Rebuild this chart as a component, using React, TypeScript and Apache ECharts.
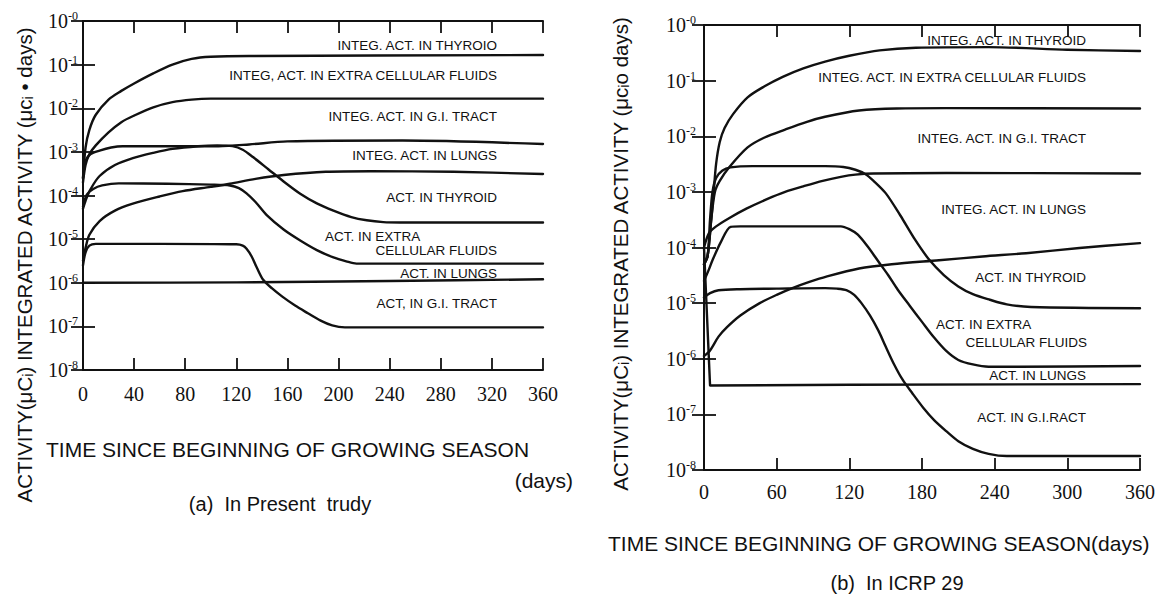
import React, { useEffect, useRef } from "react";
import * as echarts from "echarts";

// ---------- (a) In Present study : [day, value] ----------
const aIntegThyroid: [number, number][] = [
  [0, 2.5e-4], [2, 1.26e-3], [5, 3.2e-3], [10, 7.1e-3], [20, 1.58e-2], [30, 2.5e-2],
  [40, 3.7e-2], [55, 6.3e-2], [70, 1.0e-1], [85, 1.35e-1], [100, 1.51e-1], [130, 1.58e-1],
  [360, 1.66e-1],
];
const aIntegECF: [number, number][] = [
  [0, 2.0e-4], [2, 5.0e-4], [5, 8.9e-4], [10, 1.41e-3], [20, 2.8e-3], [30, 4.8e-3],
  [40, 6.8e-3], [55, 1.05e-2], [70, 1.38e-2], [85, 1.58e-2], [100, 1.66e-2], [360, 1.66e-2],
];
const aIntegGI: [number, number][] = [
  [0, 2.5e-4], [2, 6.3e-4], [6, 8.9e-4], [13, 1.07e-3], [22, 1.26e-3], [31, 1.35e-3],
  [106, 1.35e-3], [130, 1.48e-3], [160, 1.74e-3], [250, 1.82e-3], [360, 1.51e-3],
];
const aIntegLungs: [number, number][] = [
  [0, 3.2e-6], [2, 6.3e-6], [5, 1.26e-5], [13, 2.6e-5], [25, 4.5e-5], [39, 6.5e-5],
  [60, 9.5e-5], [78, 1.26e-4], [100, 1.58e-4], [115, 1.86e-4], [135, 2.4e-4], [157, 2.95e-4],
  [190, 3.5e-4], [225, 3.6e-4], [290, 3.5e-4], [360, 3.1e-4],
];
const aActThyroid: [number, number][] = [
  [0, 5.0e-5], [2, 7.6e-5], [6, 1.41e-4], [13, 2.8e-4], [25, 5.0e-4], [39, 7.2e-4],
  [55, 9.5e-4], [70, 1.17e-3], [90, 1.35e-3], [105, 1.41e-3], [117, 1.35e-3], [125, 1.12e-3],
  [133, 7.6e-4], [145, 4.0e-4], [157, 2.1e-4], [170, 1.1e-4], [183, 6.6e-5], [196, 4.5e-5],
  [210, 3.2e-5], [222, 2.7e-5], [235, 2.45e-5], [248, 2.4e-5], [360, 2.4e-5],
];
const aActECF: [number, number][] = [
  [0, 5.6e-5], [3, 1.05e-4], [8, 1.41e-4], [15, 1.7e-4], [28, 1.9e-4], [66, 1.86e-4],
  [100, 1.78e-4], [115, 1.7e-4], [122, 1.48e-4], [128, 1.12e-4], [135, 7.1e-5], [144, 3.5e-5],
  [157, 1.66e-5], [170, 9.3e-6], [183, 5.6e-6], [196, 3.8e-6], [206, 3.1e-6], [214, 2.75e-6],
  [360, 2.75e-6],
];
const aActLungs: [number, number][] = [
  [0, 1.0e-6], [120, 1.02e-6], [240, 1.1e-6], [360, 1.2e-6],
];
const aActGI: [number, number][] = [
  [0, 2.5e-6], [2, 5.0e-6], [5, 7.1e-6], [10, 7.8e-6], [60, 7.8e-6], [120, 7.6e-6],
  [125, 7.1e-6], [128, 6.0e-6], [132, 4.0e-6], [136, 2.24e-6], [141, 1.17e-6], [148, 7.4e-7],
  [156, 4.8e-7], [166, 3.0e-7], [176, 2.0e-7], [186, 1.35e-7], [195, 1.05e-7], [205, 9.5e-8],
  [360, 9.5e-8],
];

// ---------- (b) In ICRP 29 : [day, value] ----------
const bIntegThyroid: [number, number][] = [
  [0, 5.0e-5], [3, 7.1e-5], [6, 3.2e-4], [8, 1.0e-3], [10, 3.2e-3], [13, 7.9e-3],
  [17, 1.41e-2], [24, 2.5e-2], [36, 5.0e-2], [50, 7.9e-2], [65, 1.17e-1], [82, 1.66e-1],
  [100, 2.2e-1], [120, 2.8e-1], [145, 3.5e-1], [175, 3.9e-1], [235, 4.0e-1], [300, 3.6e-1],
  [360, 3.4e-1],
];
const bIntegECF: [number, number][] = [
  [0, 5.0e-5], [3, 7.1e-5], [6, 3.2e-4], [9, 1.0e-3], [13, 1.58e-3], [21, 2.8e-3],
  [36, 6.3e-3], [50, 9.5e-3], [67, 1.32e-2], [85, 1.82e-2], [100, 2.24e-2], [128, 2.9e-2],
  [159, 3.16e-2], [200, 3.2e-2], [360, 3.16e-2],
];
const bIntegGI: [number, number][] = [
  [0, 1.0e-4], [4, 1.8e-4], [10, 2.4e-4], [21, 3.4e-4], [35, 5.0e-4], [52, 7.4e-4],
  [67, 1.0e-3], [82, 1.26e-3], [98, 1.58e-3], [113, 1.86e-3], [125, 2.04e-3], [140, 2.14e-3],
  [200, 2.19e-3], [360, 2.14e-3],
];
const bIntegLungs: [number, number][] = [
  [0, 1.12e-6], [5, 1.41e-6], [12, 2.5e-6], [19, 3.7e-6], [30, 6.0e-6], [46, 1.0e-5],
  [60, 1.41e-5], [73, 1.86e-5], [87, 2.4e-5], [101, 3.0e-5], [128, 4.2e-5], [155, 5.0e-5],
  [194, 5.9e-5], [230, 6.9e-5], [266, 7.9e-5], [310, 9.8e-5], [360, 1.2e-4],
];
const bActThyroid: [number, number][] = [
  [0, 5.0e-5], [3, 7.1e-5], [5, 3.2e-4], [7, 1.0e-3], [10, 1.78e-3], [15, 2.4e-3],
  [22, 2.75e-3], [40, 2.9e-3], [100, 2.9e-3], [115, 2.8e-3], [125, 2.5e-3], [133, 2.1e-3],
  [140, 1.58e-3], [150, 9.5e-4], [162, 3.8e-4], [174, 1.41e-4], [186, 6.0e-5], [198, 3.2e-5],
  [210, 2.0e-5], [222, 1.45e-5], [236, 1.15e-5], [250, 9.5e-6], [270, 8.5e-6], [360, 8.1e-6],
];
const bActECF: [number, number][] = [
  [0, 2.5e-5], [4, 4.0e-5], [7, 5.9e-5], [14, 1.26e-4], [22, 2.35e-4], [30, 2.4e-4],
  [113, 2.4e-4], [120, 2.14e-4], [127, 1.7e-4], [135, 1.05e-4], [144, 5.6e-5], [152, 3.2e-5],
  [160, 1.74e-5], [170, 8.9e-6], [180, 4.6e-6], [190, 2.4e-6], [200, 1.38e-6], [210, 9.5e-7],
  [222, 7.9e-7], [235, 7.2e-7], [260, 7.2e-7], [360, 7.4e-7],
];
const bActLungs: [number, number][] = [
  [0, 1.0e-4], [5, 3.3e-7], [120, 3.4e-7], [360, 3.5e-7],
];
const bActGI: [number, number][] = [
  [0, 1.26e-5], [5, 1.51e-5], [12, 1.7e-5], [30, 1.78e-5], [60, 1.82e-5], [100, 1.86e-5],
  [110, 1.82e-5], [118, 1.7e-5], [124, 1.41e-5], [130, 1.0e-5], [137, 6.0e-6], [144, 3.2e-6],
  [150, 1.66e-6], [157, 7.9e-7], [164, 4.2e-7], [172, 2.4e-7], [181, 1.32e-7], [190, 7.9e-8],
  [200, 5.0e-8], [210, 3.3e-8], [222, 2.4e-8], [235, 1.95e-8], [250, 1.78e-8], [360, 1.78e-8],
];

const seriesA = [aIntegThyroid, aIntegECF, aIntegGI, aIntegLungs, aActThyroid, aActECF, aActLungs, aActGI];
const seriesB = [bIntegThyroid, bIntegECF, bIntegGI, bIntegLungs, bActThyroid, bActECF, bActLungs, bActGI];
const straightB = [bActLungs];

const labelsA = [
  "INTEG. ACT. IN THYROIO",
  "INTEG, ACT. IN EXTRA CELLULAR FLUIDS",
  "INTEG. ACT. IN G.I. TRACT",
  "INTEG. ACT. IN LUNGS",
  "ACT. IN THYROID",
  "ACT. IN EXTRA",
  "CELLULAR FLUIDS",
  "ACT. IN LUNGS",
  "ACT, IN G.I. TRACT",
];
const labelsB = [
  "INTEG. ACT. IN THYROID",
  "INTEG. ACT. IN EXTRA CELLULAR FLUIDS",
  "INTEG. ACT. IN G.I. TRACT",
  "INTEG. ACT. IN LUNGS",
  "ACT. IN THYROID",
  "ACT. IN EXTRA",
  "CELLULAR FLUIDS",
  "ACT. IN LUNGS",
  "ACT. IN G.I.RACT",
];

const xTitleA = "TIME SINCE BEGINNING OF GROWING SEASON";
const xTitleB = "TIME SINCE BEGINNING OF GROWING SEASON(days)";
const yTitleA = "ACTIVITY(μCᵢ) INTEGRATED ACTIVITY (μcᵢ • days)";
const yTitleB = "ACTIVITY(μCᵢ) INTEGRATED ACTIVITY (μcᵢo days)";
const captionA = "(a)  In Present  trudy";
const captionB = "(b)  In ICRP 29";

const INK = "#111";
const SERIF = "'Liberation Serif', 'Times New Roman', serif";
const SANS = "'Liberation Sans', Arial, sans-serif";

function App() {
  const ref = useRef<HTMLDivElement>(null);

  useEffect(() => {
    if (!ref.current) return;
    const chart = echarts.init(ref.current, undefined, { renderer: "svg" });

    const grids = [
      { left: 83, top: 21, width: 460, height: 349 },
      { left: 704, top: 25, width: 436, height: 445 },
    ];
    const intervals = [40, 60];
    const labelMargins = [14, 12];

    const xAxis: any[] = [];
    const yAxis: any[] = [];
    grids.forEach((_, g) => {
      const base = {
        type: "value",
        gridIndex: g,
        min: 0,
        max: 360,
        interval: intervals[g],
        splitLine: { show: false },
        axisLine: { show: true, lineStyle: { color: INK, width: 2 } },
        axisTick: { show: true, inside: true, length: 12, lineStyle: { color: INK, width: 1.8 } },
      };
      xAxis.push({
        ...base,
        position: "bottom",
        axisLabel: {
          show: true,
          margin: labelMargins[g],
          color: INK,
          fontFamily: SERIF,
          fontSize: 20,
          showMinLabel: true,
          showMaxLabel: true,
        },
      });
      xAxis.push({ ...base, position: "top", axisLabel: { show: false } });
      const ybase = {
        type: "log",
        logBase: 10,
        gridIndex: g,
        min: 1e-8,
        max: 1,
        splitLine: { show: false },
        axisLine: { show: true, lineStyle: { color: INK, width: 2 } },
        axisTick: { show: true, inside: true, length: 12, lineStyle: { color: INK, width: 1.8 } },
      };
      yAxis.push({
        ...ybase,
        position: "left",
        axisLabel: {
          show: true,
          margin: g === 0 ? 5 : 8,
          showMinLabel: true,
          showMaxLabel: true,
          formatter: (v: number) => `{b|10}{s|-${Math.abs(Math.round(Math.log10(v)))}}`,
          rich: {
            b: { fontFamily: SERIF, fontSize: 20, color: INK, lineHeight: 22 },
            s: { fontFamily: SERIF, fontSize: 12, color: INK, lineHeight: 12, verticalAlign: "top" },
          },
        },
      });
      yAxis.push({ ...ybase, position: "right", axisLabel: { show: false } });
    });

    const series: any[] = [];
    [seriesA, seriesB].forEach((group, g) => {
      group.forEach((data, i) => {
        const straight = straightB.includes(data);
        series.push({
          type: "line",
          name: `${g}-${i}`,
          xAxisIndex: g * 2,
          yAxisIndex: g * 2,
          data,
          showSymbol: false,
          smooth: straight ? false : 0.3,
          lineStyle: { color: INK, width: 2.4, cap: "round", join: "round" },
          silent: true,
        });
      });
    });

    const txt = (text: string, x: number, y: number, size: number, align: string, extra: any = {}) => ({
      type: "text",
      x,
      y,
      silent: true,
      ...extra,
      style: {
        text,
        fill: INK,
        font: `${size}px ${SANS}`,
        align,
        verticalAlign: "middle",
        textAlign: align,
        textVerticalAlign: "middle",
      },
    });

    const posA: [number, number, string][] = [
      [497, 45, "right"], [497, 75, "right"], [497, 116, "right"], [497, 155, "right"],
      [497, 197, "right"], [325, 236, "left"], [497, 250, "right"], [497, 273, "right"],
      [497, 303, "right"],
    ];
    const posB: [number, number, string][] = [
      [1086, 40, "right"], [1086, 77, "right"], [1086, 138, "right"], [1086, 209, "right"],
      [1086, 277, "right"], [936, 324, "left"], [1087, 342, "right"], [1086, 375, "right"],
      [1086, 417, "right"],
    ];

    const graphic: any[] = [];
    labelsA.forEach((t, i) => graphic.push(txt(t, posA[i][0], posA[i][1], 13.5, posA[i][2])));
    labelsB.forEach((t, i) => graphic.push(txt(t, posB[i][0], posB[i][1], 13.5, posB[i][2])));
    graphic.push(txt(yTitleA, 24, 265, 20.5, "center", { rotation: Math.PI / 2 }));
    graphic.push(txt(yTitleB, 620, 254, 20.5, "center", { rotation: Math.PI / 2 }));
    graphic.push(txt(xTitleA, 46, 449, 21, "left"));
    graphic.push(txt("(days)", 573, 480, 21, "right"));
    graphic.push(txt(captionA, 280, 504, 20, "center"));
    graphic.push(txt(xTitleB, 608, 543, 21, "left"));
    graphic.push(txt(captionB, 897, 583, 20, "center"));

    chart.setOption({
      animation: false,
      backgroundColor: "#fff",
      grid: grids.map((g) => ({ ...g, containLabel: false })),
      xAxis,
      yAxis,
      series,
      graphic,
    });

    return () => chart.dispose();
  }, []);

  return (
    <div
      ref={ref}
      style={{ position: "fixed", left: 0, top: 0, width: 1162, height: 595, background: "#fff" }}
    />
  );
}

export default App;
